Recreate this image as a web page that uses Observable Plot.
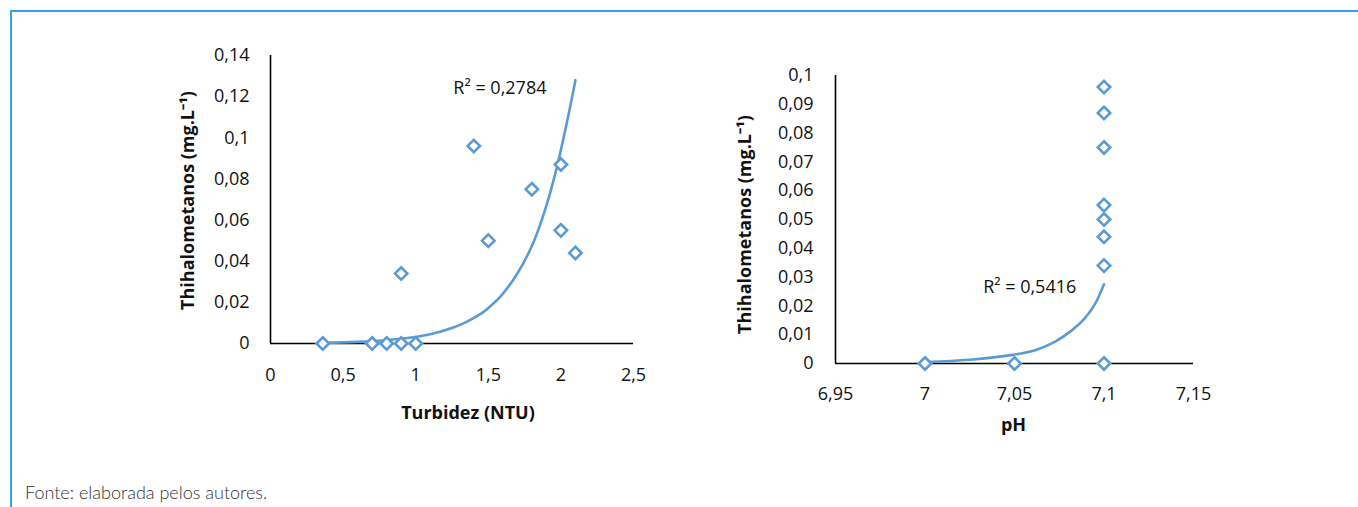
<!DOCTYPE html>
<html>
<head>
<meta charset="utf-8">
<script src="https://cdn.jsdelivr.net/npm/d3@7"></script>
<script src="https://cdn.jsdelivr.net/npm/@observablehq/plot@0.6"></script>
<style>
  html, body { margin: 0; padding: 0; background: #fff; }
  #wrap { position: relative; width: 1358px; height: 507px; overflow: hidden; background: #fff; }
  #topline { position: absolute; left: 10px; right: 0; top: 10px; height: 2px; background: #36a3dc; }
  #leftline { position: absolute; left: 10px; top: 10px; bottom: 0; width: 2px; background: #36a3dc; }
  #left { position: absolute; left: 170px; top: 40px; }
  #right { position: absolute; left: 730px; top: 60px; }
  #caption { position: absolute; left: 25px; top: 480px; font-family: Lato, "Open Sans", sans-serif; font-weight: 300; font-size: 18px; line-height: 24px; color: #333; }
</style>
</head>
<body>
<div id="wrap">
  <div id="topline"></div>
  <div id="leftline"></div>
  <div id="left"></div>
  <div id="right"></div>
  <div id="caption">Fonte: elaborada pelos autores.</div>
</div>
<script>
// ---- Data: Turbidez vs THM ----
const turbidez = [0.36, 0.7, 0.8, 0.9, 1.0, 0.9, 1.4, 1.5, 1.8, 2.0, 2.0, 2.1];
const thmTurb  = [0, 0, 0, 0, 0, 0.034, 0.096, 0.05, 0.075, 0.087, 0.055, 0.044];
// trend curve
const trendTurbX = [0.36, 0.6, 0.9, 1.1, 1.25, 1.35, 1.45, 1.52, 1.58, 1.7, 1.81, 1.9, 1.97, 2.04, 2.1];
const trendTurbY = [0.0004, 0.0008, 0.0023, 0.0045, 0.0075, 0.0105, 0.0145, 0.0185, 0.0225, 0.034, 0.049, 0.067, 0.085, 0.107, 0.128];
const xTicksTurb = [0, 0.5, 1, 1.5, 2, 2.5];
const yTicksTurb = [0, 0.02, 0.04, 0.06, 0.08, 0.1, 0.12, 0.14];
const r2Turb = [{x: 1.58, y: 0.124, label: "R² = 0,2784"}];

// ---- Data: pH vs THM ----
const ph    = [7.0, 7.05, 7.1, 7.1, 7.1, 7.1, 7.1, 7.1, 7.1, 7.1];
const thmPh = [0, 0, 0, 0.034, 0.044, 0.05, 0.055, 0.075, 0.087, 0.096];
const trendPhX = [7.0, 7.025, 7.049, 7.062, 7.073, 7.082, 7.089, 7.095, 7.1];
const trendPhY = [0.0005, 0.0013, 0.003, 0.0047, 0.0077, 0.0115, 0.0155, 0.0207, 0.0275];
const xTicksPh = [6.95, 7, 7.05, 7.1, 7.15];
const yTicksPh = [0, 0.01, 0.02, 0.03, 0.04, 0.05, 0.06, 0.07, 0.08, 0.09, 0.1];
const r2Ph = [{x: 7.0585, y: 0.0264, label: "R² = 0,5416"}];

const yTitle = "Thihalometanos (mg.L⁻¹)";
const blue = "#5b9bd5";
const ink = "#111";
const fmt = d => String(d).replace(".", ",");
const zip = (a, b) => a.map((v, i) => ({x: v, y: b[i]}));

function chart({width, height, margins, xDomain, yDomain, xTicks, yTicks, pts, trend, r2, xTitle, xTitleDx, xTitleDy, yTitleDx, yTitleDy, yPad, xPad}) {
  return Plot.plot({
    width, height,
    marginLeft: margins[0], marginRight: margins[1], marginTop: margins[2], marginBottom: margins[3],
    style: {fontFamily: "'Open Sans', sans-serif", fontSize: "18px", color: ink, background: "transparent", overflow: "visible"},
    x: {domain: xDomain, label: null},
    y: {domain: yDomain, label: null},
    marks: [
      Plot.axisX({ticks: xTicks, tickFormat: fmt, tickSize: 0, tickPadding: xPad, label: null, fontSize: 18}),
      Plot.axisY({ticks: yTicks, tickFormat: fmt, tickSize: 0, tickPadding: yPad, label: null, fontSize: 18}),
      Plot.ruleX([xDomain[0]], {y1: yDomain[0], y2: yDomain[1], stroke: "#000", strokeWidth: 1.6}),
      Plot.ruleY([yDomain[0]], {x1: xDomain[0], x2: xDomain[1], stroke: "#000", strokeWidth: 1.6}),
      Plot.line(trend, {x: "x", y: "y", stroke: blue, strokeWidth: 2.6, curve: "catmull-rom"}),
      Plot.dot(pts, {x: "x", y: "y", symbol: "diamond2", r: 5.6, stroke: blue, strokeWidth: 2.6, fill: "#fff"}),
      Plot.text(r2, {x: "x", y: "y", text: "label", fontSize: 18, fill: ink}),
      Plot.text([xTitle], {text: d => d, frameAnchor: "bottom", textAnchor: "middle", dx: xTitleDx, dy: xTitleDy, fontWeight: "bold", fontSize: 18, fill: ink}),
      Plot.text([yTitle], {text: d => d, frameAnchor: "left", textAnchor: "middle", lineAnchor: "middle", dx: yTitleDx, dy: yTitleDy, rotate: -90, fontWeight: "bold", fontSize: 18, fill: ink})
    ]
  });
}

document.getElementById("left").appendChild(chart({
  width: 490, height: 400, margins: [100, 27, 15, 97],
  xDomain: [0, 2.5], yDomain: [0, 0.14], xTicks: xTicksTurb, yTicks: yTicksTurb,
  pts: zip(turbidez, thmTurb), trend: zip(trendTurbX, trendTurbY), r2: r2Turb,
  xTitle: "Turbidez (NTU)", xTitleDx: 16, xTitleDy: 75, yTitleDx: -82, yTitleDy: 1, yPad: 21, xPad: 25
}));

document.getElementById("right").appendChild(chart({
  width: 500, height: 390, margins: [105, 37, 15, 87],
  xDomain: [6.95, 7.15], yDomain: [0, 0.1], xTicks: xTicksPh, yTicks: yTicksPh,
  pts: zip(ph, thmPh), trend: zip(trendPhX, trendPhY), r2: r2Ph,
  xTitle: "pH", xTitleDx: -1, xTitleDy: 67, yTitleDx: -90, yTitleDy: 5, yPad: 22, xPad: 24
}));
</script>
</body>
</html>
